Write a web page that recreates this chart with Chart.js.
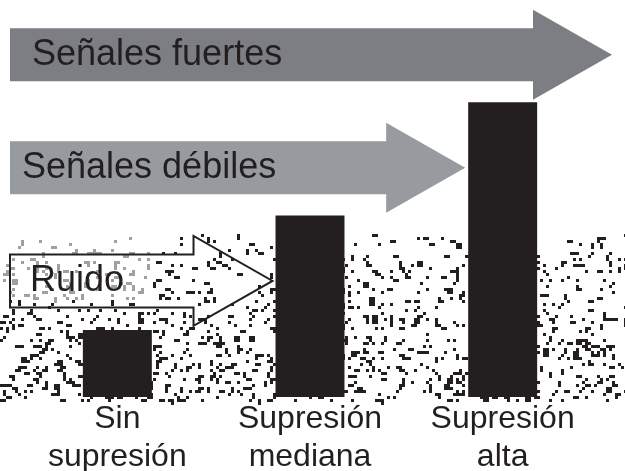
<!DOCTYPE html>
<html>
<head>
<meta charset="utf-8">
<script src="https://cdn.jsdelivr.net/npm/chart.js@4/dist/chart.umd.min.js"></script>
<style>
  html, body { margin: 0; padding: 0; background: #ffffff; }
  #c { display: block; }
</style>
</head>
<body>
<canvas id="c" width="625" height="471"></canvas>
<script>
// ---- data ----
const categories = [["Sin", "supresión"], ["Supresión", "mediana"], ["Supresión", "alta"]];
const suppressionValues = [22.5, 61, 99];
const arrowLabels = ["Ruido", "Señales débiles", "Señales fuertes"];
const arrowLevels = [39, 77, 115];          // y-value of each arrow's axis
const arrowTargets = [1, 2, null];          // category each arrow points at (null = past the last)
const yMax = 130;

const INK = '#231f20';
const FONT = '"Liberation Sans", Arial, sans-serif';

// deterministic texture generator for the "noise" background (decoration, not data)
function mulberry32(a) {
  return function () {
    a |= 0; a = a + 0x6D2B79F5 | 0;
    let t = Math.imul(a ^ a >>> 15, 1 | a);
    t = t + Math.imul(t ^ t >>> 7, 61 | t) ^ t;
    return ((t ^ t >>> 14) >>> 0) / 4294967296;
  };
}

const noisePlugin = {
  id: 'noise',
  beforeDatasetsDraw(chart) {
    const ctx = chart.ctx;
    const rnd = mulberry32(20240611);
    const y0 = 234, y1 = 400;
    ctx.save();
    for (let y = y0; y < y1; y += 3) {
      const t = (y - y0) / (y1 - y0);
      for (let x = 0; x < chart.width; x += 3) {
        const p = (y < 250 ? 0.035 : 0.065) + 0.09 * t;
        if (rnd() < p) {
          const w = rnd() < 0.25 ? 6 : 3;
          const h = rnd() < 0.12 ? 6 : 3;
          ctx.fillStyle = (x < 150 && y < 298) ? '#a0a0a0' : INK;
          ctx.fillRect(x, y, w, h);
        }
      }
    }
    ctx.restore();
  }
};

const arrowsPlugin = {
  id: 'arrows',
  afterDatasetsDraw(chart) {
    const ctx = chart.ctx;
    const ys = chart.scales.y;
    const meta = chart.getDatasetMeta(0);
    const area = chart.chartArea;
    const bodyHalf = 26.5, headHalf = 45, headLen = 79, leftX = 10;
    const styles = [
      { fill: null, stroke: INK, textX: 30 },
      { fill: '#979a9f', stroke: null, textX: 22 },
      { fill: '#7c7e84', stroke: null, textX: 32 }
    ];
    ctx.save();
    arrowLabels.forEach((label, i) => {
      const cy = ys.getPixelForValue(arrowLevels[i]);
      let tip;
      if (arrowTargets[i] !== null) {
        const bar = meta.data[arrowTargets[i]];
        tip = bar.x - bar.width / 2 - 3;
      } else {
        tip = area.right + 13;
      }
      const base = tip - headLen;
      ctx.beginPath();
      ctx.moveTo(leftX, cy - bodyHalf);
      ctx.lineTo(base, cy - bodyHalf);
      ctx.lineTo(base, cy - headHalf);
      ctx.lineTo(tip, cy);
      ctx.lineTo(base, cy + headHalf);
      ctx.lineTo(base, cy + bodyHalf);
      ctx.lineTo(leftX, cy + bodyHalf);
      ctx.closePath();
      const s = styles[i];
      if (s.fill) { ctx.fillStyle = s.fill; ctx.fill(); }
      if (s.stroke) { ctx.lineWidth = 2; ctx.strokeStyle = s.stroke; ctx.lineJoin = 'miter'; ctx.stroke(); }
      ctx.fillStyle = INK;
      ctx.font = '36px ' + FONT;
      ctx.textAlign = 'left';
      ctx.textBaseline = 'alphabetic';
      ctx.fillText(label, s.textX, cy + 10.5);
    });
    ctx.restore();
  }
};

new Chart(document.getElementById('c'), {
  type: 'bar',
  data: {
    labels: categories,
    datasets: [{
      data: suppressionValues,
      backgroundColor: INK,
      borderWidth: 0,
      barPercentage: 0.358,
      categoryPercentage: 1
    }]
  },
  options: {
    responsive: false,
    animation: false,
    devicePixelRatio: 1,
    layout: { padding: { left: 21, right: 26, top: 10, bottom: 0 } },
    plugins: { legend: { display: false }, tooltip: { enabled: false } },
    scales: {
      x: {
        grid: { display: false, drawTicks: false },
        border: { display: false },
        ticks: {
          color: INK,
          font: { family: FONT, size: 32, lineHeight: 1.19 },
          padding: 3,
          maxRotation: 0,
          autoSkip: false
        },
        afterFit(scale) { scale.height = 74; }
      },
      y: {
        display: false,
        min: 0,
        max: yMax
      }
    }
  },
  plugins: [noisePlugin, arrowsPlugin]
});
</script>
</body>
</html>
